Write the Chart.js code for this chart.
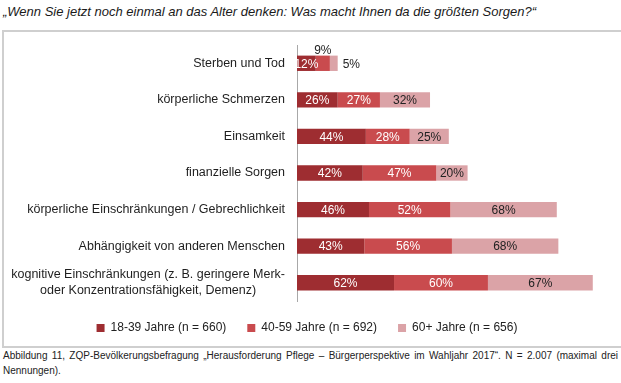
<!DOCTYPE html>
<html><head><meta charset="utf-8">
<script src="https://cdn.jsdelivr.net/npm/chart.js@4/dist/chart.umd.min.js"></script>
<style>
html,body{margin:0;padding:0;background:#fff;}
body{width:621px;height:383px;position:relative;overflow:hidden;font-family:"Liberation Sans",Arial,sans-serif;color:#222;}
#title{position:absolute;left:3px;top:4px;font-style:italic;font-size:13px;white-space:nowrap;color:#1a1a1a;}
#frame{position:absolute;left:2px;top:30px;width:630px;height:314px;border:2px solid #cfcfcf;}
#wrap{position:absolute;left:4px;top:32px;width:615px;height:312px;}
.cap{position:absolute;left:3px;width:615px;font-size:10px;line-height:15px;color:#222;white-space:nowrap;}
#cap1{top:348px;text-align:justify;text-align-last:justify;}
#cap2{top:363px;}
</style>
</head><body>
<div id="title">„Wenn Sie jetzt noch einmal an das Alter denken: Was macht Ihnen da die größten Sorgen?“</div>
<div id="frame"></div>
<div id="wrap"><canvas id="c" width="615" height="312"></canvas></div>
<div class="cap" id="cap1">Abbildung 11, ZQP-Bevölkerungsbefragung „Herausforderung Pflege – Bürgerperspektive im Wahljahr 2017“. N = 2.007 (maximal drei</div>
<div class="cap" id="cap2">Nennungen).</div>
<script>
const categories = [
  "Sterben und Tod",
  "körperliche Schmerzen",
  "Einsamkeit",
  "finanzielle Sorgen",
  "körperliche Einschränkungen / Gebrechlichkeit",
  "Abhängigkeit von anderen Menschen",
  ["kognitive Einschränkungen (z. B. geringere Merk-", "oder Konzentrationsfähigkeit, Demenz)"]
];
const seriesNames = ["18-39 Jahre (n = 660)", "40-59 Jahre (n = 692)", "60+ Jahre (n = 656)"];
const age18to39 = [12, 26, 44, 42, 46, 43, 62];
const age40to59 = [9, 27, 28, 47, 52, 56, 60];
const age60plus = [5, 32, 25, 20, 68, 68, 67];
const seriesColors = ["#9e2d31", "#c94b4e", "#dba3a7"];

const FONT = '"Liberation Sans", Arial, sans-serif';

const valueLabels = {
  id: 'valueLabels',
  afterDatasetsDraw(chart) {
    const ctx = chart.ctx;
    ctx.save();
    ctx.font = '12px ' + FONT;
    ctx.textBaseline = 'middle';
    const n = chart.data.datasets.length;
    chart.data.datasets.forEach((ds, di) => {
      const meta = chart.getDatasetMeta(di);
      meta.data.forEach((bar, i) => {
        const txt = ds.data[i] + '%';
        const left = Math.min(bar.x, bar.base), right = Math.max(bar.x, bar.base);
        const w = right - left;
        if (w >= 16) {
          ctx.textAlign = 'center';
          ctx.fillStyle = di < 2 ? '#ffffff' : '#222222';
          ctx.fillText(txt, (left + right) / 2, bar.y + 1);
        } else if (di === n - 1) {
          ctx.textAlign = 'left';
          ctx.fillStyle = '#222222';
          ctx.fillText(txt, right + 5, bar.y + 1);
        } else {
          ctx.textAlign = 'center';
          ctx.fillStyle = '#222222';
          ctx.fillText(txt, (left + right) / 2, bar.y - bar.height / 2 - 5);
        }
      });
    });
    ctx.restore();
  }
};

const categoryLabels = {
  id: 'categoryLabels',
  afterDraw(chart) {
    const ctx = chart.ctx;
    const y = chart.scales.y;
    const xr = chart.chartArea.left - 12;
    ctx.save();
    ctx.font = '12.5px ' + FONT;
    ctx.fillStyle = '#1e1e1e';
    ctx.textBaseline = 'middle';
    chart.data.labels.forEach((lab, i) => {
      const py = y.getPixelForTick(i);
      if (Array.isArray(lab)) {
        const wmax = Math.max(...lab.map(l => ctx.measureText(l).width));
        const cx = xr - wmax / 2;
        const lh = 16;
        const y0 = py - (lab.length - 1) * lh / 2;
        ctx.textAlign = 'center';
        lab.forEach((l, k) => ctx.fillText(l, cx, y0 + k * lh));
      } else {
        ctx.textAlign = 'right';
        ctx.fillText(lab, xr, py);
      }
    });
    ctx.restore();
  }
};

new Chart(document.getElementById('c'), {
  type: 'bar',
  data: {
    labels: categories,
    datasets: [
      { label: seriesNames[0], data: age18to39, backgroundColor: seriesColors[0] },
      { label: seriesNames[1], data: age40to59, backgroundColor: seriesColors[1] },
      { label: seriesNames[2], data: age60plus, backgroundColor: seriesColors[2] }
    ]
  },
  options: {
    indexAxis: 'y',
    responsive: false,
    animation: false,
    events: [],
    categoryPercentage: 1,
    barPercentage: 0.42,
    layout: { padding: { left: 0, right: 9, top: 13, bottom: 0 } },
    scales: {
      x: { stacked: true, display: false, min: 0, max: 200 },
      y: {
        stacked: true,
        grid: { display: false, drawTicks: false },
        border: { display: true, color: '#a8a8a8', width: 1 },
        ticks: { display: false },
        afterFit(s) { s.width = 293; }
      }
    },
    plugins: {
      tooltip: { enabled: false },
      legend: {
        position: 'bottom',
        labels: {
          font: { family: FONT, size: 12 },
          color: '#222',
          boxWidth: 8,
          boxHeight: 8,
          padding: 21
        }
      }
    }
  },
  plugins: [valueLabels, categoryLabels]
});
</script>
</body></html>
